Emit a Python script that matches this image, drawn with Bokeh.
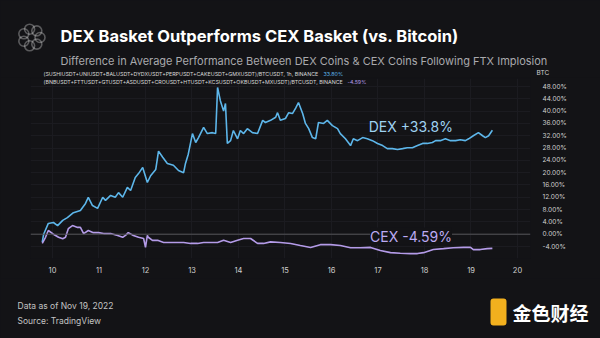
from bokeh.plotting import figure
from bokeh.layouts import column, row
from bokeh.models import Label, Span, FixedTicker, PrintfTickFormatter, BoxAnnotation, Range1d
from bokeh.embed import file_html
from bokeh.resources import INLINE
import math

# ---- data ----
dex_day = [9.78, 9.81, 9.91, 10.02, 10.11, 10.22, 10.32, 10.45, 10.60, 10.71, 10.77, 10.86, 10.97,
           11.08, 11.14, 11.25, 11.35, 11.42, 11.51, 11.61, 11.68, 11.78, 11.85, 11.94, 12.04, 12.11,
           12.22, 12.28, 12.37, 12.47, 12.60, 12.71, 12.82, 12.86, 12.92, 13.01, 13.08, 13.14, 13.25,
           13.33, 13.44, 13.51, 13.55, 13.61, 13.68, 13.72, 13.76, 13.83, 13.89, 13.98, 14.04, 14.11,
           14.19, 14.30, 14.41, 14.52, 14.58, 14.69, 14.80, 14.84, 14.90, 15.01, 15.08, 15.16, 15.23,
           15.29, 15.38, 15.44, 15.51, 15.59, 15.66, 15.72, 15.83, 15.91, 16.02, 16.13, 16.19, 16.30,
           16.41, 16.47, 16.56, 16.67, 16.77, 16.88, 16.99, 17.10, 17.20, 17.31, 17.42, 17.53, 17.63,
           17.74, 17.85, 17.96, 18.06, 18.17, 18.24, 18.34, 18.45, 18.56, 18.67, 18.77, 18.88, 18.95,
           19.05, 19.16, 19.25, 19.31, 19.38, 19.46]
dex_pct = [-2.6, 0.0, 3.5, 3.8, 2.8, 4.5, 5.4, 7.0, 7.7, 10.0, 12.0, 9.3, 8.4,
           12.0, 11.0, 12.6, 12.0, 13.5, 12.0, 15.2, 14.2, 18.4, 19.7, 21.7, 16.8, 19.0,
           21.0, 27.0, 25.0, 23.0, 22.4, 20.7, 20.0, 23.0, 26.0, 32.7, 29.8, 31.4, 34.7,
           32.7, 33.0, 32.7, 47.7, 43.4, 40.0, 42.5, 29.5, 30.4, 33.7, 31.0, 33.7, 32.7,
           34.3, 33.0, 32.7, 37.0, 36.3, 37.0, 38.0, 39.5, 37.0, 37.6, 39.5, 39.2, 41.0,
           42.8, 39.2, 36.0, 34.3, 31.4, 31.0, 36.3, 36.0, 37.0, 35.3, 34.3, 32.7, 31.0,
           28.8, 31.0, 30.4, 31.4, 31.0, 30.4, 29.5, 28.8, 27.8, 27.8, 27.5, 27.8, 28.1,
           28.1, 28.8, 29.5, 29.5, 29.8, 30.4, 30.4, 31.0, 30.4, 30.4, 30.7, 30.4, 31.0,
           32.0, 33.0, 32.0, 31.4, 32.0, 33.8]

cex_day = [9.78, 9.85, 9.91, 10.02, 10.13, 10.22, 10.28, 10.34, 10.43, 10.54, 10.60, 10.67, 10.77,
           10.88, 10.99, 11.10, 11.25, 11.40, 11.51, 11.57, 11.63, 11.74, 11.85, 11.96, 12.00, 12.04,
           12.06, 12.15, 12.26, 12.39, 12.54, 12.69, 12.82, 12.97, 13.12, 13.25, 13.40, 13.55, 13.68,
           13.83, 13.98, 14.11, 14.26, 14.41, 14.54, 14.69, 14.90, 15.12, 15.33, 15.55, 15.76, 15.98,
           16.19, 16.41, 16.62, 16.84, 17.05, 17.27, 17.48, 17.70, 17.85, 17.98, 18.19, 18.41, 18.62,
           18.84, 18.99, 19.05, 19.20, 19.35, 19.46]
cex_pct = [-3.0, -1.0, 1.2, 0.0, -1.0, -1.5, -1.0, 1.8, 2.8, 2.2, 2.2, 0.2, 1.2,
           0.5, 0.5, 0.2, 0.2, -0.4, -1.0, -0.4, 0.5, -0.4, -1.0, -1.4, -4.3, -0.4,
           -1.0, -2.0, -2.0, -2.7, -2.7, -2.7, -2.7, -3.0, -3.0, -2.7, -2.7, -2.7, -2.0,
           -2.7, -2.0, -1.4, -1.4, -3.0, -3.0, -2.5, -2.7, -3.0, -3.7, -4.3, -3.4, -3.4,
           -3.7, -4.4, -4.4, -4.3, -5.3, -6.0, -6.2, -6.3, -6.3, -6.0, -5.0, -4.7, -4.4,
           -4.3, -4.3, -5.0, -5.0, -4.7, -4.6]

x_ticks = [10, 11, 12, 13, 14, 15, 16, 17, 18, 19, 20]
y_ticks = [-4, 0, 4, 8, 12, 16, 20, 24, 28, 32, 36, 40, 44, 48]

title = "DEX Basket Outperforms CEX Basket (vs. Bitcoin)"
subtitle = "Difference in Average Performance Between DEX Coins & CEX Coins Following FTX Implosion"
dex_series = "(SUSHIUSDT+UNIUSDT+BALUSDT+DYDXUSDT+PERPUSDT+CAKEUSDT+GMXUSDT)/BTCUSDT, 1h, BINANCE"
cex_series = "(BNBUSDT+FTTUSDT+GTUSDT+ASDUSDT+CROUSDT+HTUSDT+KCSUSDT+OKBUSDT+MXUSDT)/BTCUSDT, BINANCE"
dex_last = "33.80%"
cex_last = "-4.59%"
dex_label = "DEX +33.8%"
cex_label = "CEX -4.59%"

BG = "#131316"
DEX_C = "#5db6ea"
CEX_C = "#b49be8"
W = 600
HDR_H, MAIN_H, FTR_H = 77, 201, 60
FL = 30  # main frame left


def panel(h):
    f = figure(width=W, height=h, x_range=Range1d(0, W), y_range=Range1d(0, h),
               x_axis_type=None, y_axis_type=None, output_backend="svg", toolbar_location=None,
               min_border=0, background_fill_color=BG, border_fill_color=BG)
    f.outline_line_color = None
    f.grid.visible = False
    return f


def slabel(f, h, x, ytop, text, size, color, style="normal", font="Inter"):
    f.add_layout(Label(x=x, y=h - ytop, x_units="screen", y_units="screen", text=text,
                       text_color=color, text_font=font, text_font_size=size,
                       text_font_style=style, text_baseline="middle"))


def sbox(f, h, xa, xb, ya, yb, **kw):
    f.add_layout(BoxAnnotation(left=xa, right=xb, top=h - ya, bottom=h - yb,
                               left_units="screen", right_units="screen", top_units="screen",
                               bottom_units="screen", **kw))


# ---- header ----
hdr = panel(HDR_H)
slabel(hdr, HDR_H, 60, 35, title, "16.5px", "#ffffff", "bold")
slabel(hdr, HDR_H, 60, 60, subtitle, "11px", "#a9a9ad")
slabel(hdr, HDR_H, 43, 73, dex_series, "5.3px", "#d8d8d8")
slabel(hdr, HDR_H, 323, 73, dex_last, "5.3px", DEX_C)
slabel(hdr, HDR_H, 536, 72, "BTC", "6.5px", "#cfcfcf")
cx, cy = 31, 37
for k in range(7):
    a = 2 * math.pi * k / 7
    xc = cx + 8.5 * math.cos(a)
    yc = cy + 8.5 * math.sin(a)
    r = 5
    sbox(hdr, HDR_H, xc - r, xc + r, yc - r, yc + r, fill_alpha=0, line_color="#ffffff",
         line_width=1.6, border_radius=r)

# ---- main chart ----
p = figure(width=W, height=MAIN_H, x_range=Range1d(9.527, 20.28), y_range=Range1d(-7.9, 50.6),
           y_axis_location="right", output_backend="svg", toolbar_location=None,
           min_border_left=FL, min_border_right=70, min_border_top=1, min_border_bottom=20,
           background_fill_color=BG, border_fill_color=BG)
p.outline_line_color = None
p.xaxis.ticker = FixedTicker(ticks=x_ticks)
p.yaxis.ticker = FixedTicker(ticks=y_ticks)
p.yaxis.formatter = PrintfTickFormatter(format="%.2f%%")
for ax in (p.xaxis, p.yaxis):
    ax.axis_line_color = None
    ax.major_tick_line_color = None
    ax.minor_tick_line_color = None
    ax.major_label_text_color = "#cfcfcf"
    ax.major_label_text_font = "Inter"
p.xaxis.major_label_text_font_size = "7.5px"
p.yaxis.major_label_text_font_size = "6.5px"
p.xaxis.major_label_standoff = 2
p.yaxis.major_label_standoff = 6
p.xgrid.grid_line_color = "#1b1b20"
p.ygrid.grid_line_color = "#1b1b20"

p.add_layout(Span(location=0, dimension="width", line_color="#555558", line_width=1))
p.line(dex_day, dex_pct, line_color=DEX_C, line_width=1.6)
p.line(cex_day, cex_pct, line_color=CEX_C, line_width=1.6)

p.add_layout(Label(x=16.8, y=35.0, text=dex_label, text_color="#9fd2f2", text_font="Inter",
                   text_font_size="14px", text_baseline="middle"))
p.add_layout(Label(x=16.83, y=-0.6, text=cex_label, text_color="#bcaaf2", text_font="Inter",
                   text_font_size="14px", text_baseline="middle", background_fill_color=BG))
# second series header line sits just inside the plot frame (frame top = canvas y 78)
FRAME_H = MAIN_H - 1 - 20
p.add_layout(Label(x=43 - FL, y=FRAME_H - 3, x_units="screen", y_units="screen", text=cex_series,
                   text_color="#d8d8d8", text_font="Inter", text_font_size="5.3px",
                   text_baseline="middle"))
p.add_layout(Label(x=347 - FL, y=FRAME_H - 3, x_units="screen", y_units="screen", text=cex_last,
                   text_color=CEX_C, text_font="Inter", text_font_size="5.3px",
                   text_baseline="middle"))

# ---- footer ----
ftr = panel(FTR_H)
slabel(ftr, FTR_H, 17, 27, "Data as of Nov 19, 2022", "8.5px", "#c4c4c4")
slabel(ftr, FTR_H, 17, 42, "Source: TradingView", "8.5px", "#c4c4c4")
slabel(ftr, FTR_H, 512, 34, "金色财经", "19px", "#ffffff", "bold", "Noto Sans CJK SC")
sbox(ftr, FTR_H, 490, 506, 20, 47, fill_color="#f2b01e", fill_alpha=1, line_color=None,
     border_radius=3)

layout = column(row(hdr), row(p), row(ftr), spacing=0)
html = file_html(layout, INLINE)
html = html.replace("<head>", "<head><style>html,body{background:#131316;margin:0;}</style>", 1)
open("out.html", "w").write(html)
